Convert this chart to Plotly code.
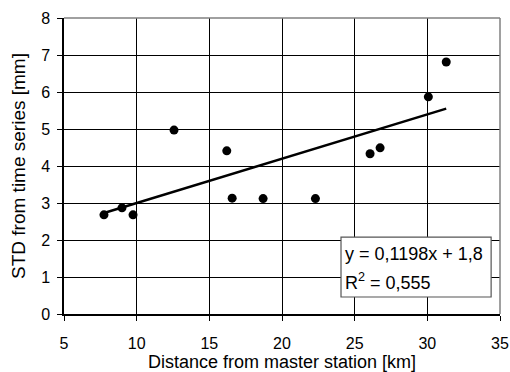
import plotly.graph_objects as go

distance_km = [7.75, 8.99, 9.75, 12.57, 16.2, 16.57, 18.7, 22.3, 26.06, 26.75, 30.07, 31.3]
std_mm = [2.68, 2.87, 2.68, 4.97, 4.41, 3.13, 3.12, 3.12, 4.33, 4.49, 5.87, 6.81]
slope = 0.1198
intercept = 1.8
x_ticks = [5, 10, 15, 20, 25, 30, 35]
y_ticks = [0, 1, 2, 3, 4, 5, 6, 7, 8]
eq_lines = ["y = 0,1198x + 1,8", "R<sup>2</sup> = 0,555"]

xmin, xmax = min(distance_km), max(distance_km)
trend_x = [xmin, xmax]
trend_y = [slope * v + intercept for v in trend_x]

fig = go.Figure()
fig.add_trace(go.Scatter(x=trend_x, y=trend_y, mode="lines",
                         line=dict(color="black", width=2.5), showlegend=False))
fig.add_trace(go.Scatter(x=distance_km, y=std_mm, mode="markers",
                         marker=dict(color="black", size=9), showlegend=False))

font = dict(family="Liberation Sans, Arial", size=16, color="black")
fig.update_layout(
    width=510, height=372,
    margin=dict(l=64, r=10, t=18, b=58),
    paper_bgcolor="white", plot_bgcolor="white",
    font=font,
    xaxis=dict(range=[5, 35], tickvals=x_ticks, showgrid=True, gridcolor="black", gridwidth=1,
               showline=True, linecolor="black", linewidth=1.5, ticks="outside", ticklen=5,
               tickcolor="black", zeroline=False, mirror=False, automargin=False,
               tickfont=dict(size=16), ticklabelstandoff=9,
               title=dict(text="Distance from master station [km]", font=dict(size=18), standoff=0)),
    yaxis=dict(range=[0, 8], tickvals=y_ticks, showgrid=True, gridcolor="black", gridwidth=1,
               showline=True, linecolor="black", linewidth=1.5, ticks="outside", ticklen=5,
               tickcolor="black", zeroline=False, automargin=False,
               tickfont=dict(size=16), ticklabelstandoff=4,
               title=dict(text="STD from time series [mm]", font=dict(size=19), standoff=10)),
    shapes=[
        dict(type="line", xref="paper", yref="paper", x0=0, x1=1, y0=1, y1=1,
             line=dict(color="gray", width=1.5)),
        dict(type="line", xref="paper", yref="paper", x0=1, x1=1, y0=0, y1=1,
             line=dict(color="gray", width=1.5)),
        dict(type="rect", xref="x", yref="y", x0=24.06, x1=34.39, y0=0.46, y1=2.08,
             fillcolor="white", line=dict(color="#555555", width=1.2), layer="above"),
    ],
    annotations=[
        dict(xref="x", yref="y", x=24.2, y=1.62, xanchor="left", yanchor="middle",
             text=eq_lines[0], showarrow=False, align="left",
             font=dict(family="Liberation Sans, Arial", size=18, color="black")),
        dict(xref="x", yref="y", x=24.2, y=0.89, xanchor="left", yanchor="middle",
             text=eq_lines[1], showarrow=False, align="left",
             font=dict(family="Liberation Sans, Arial", size=18, color="black")),
    ],
)
fig.write_html("out.html")
